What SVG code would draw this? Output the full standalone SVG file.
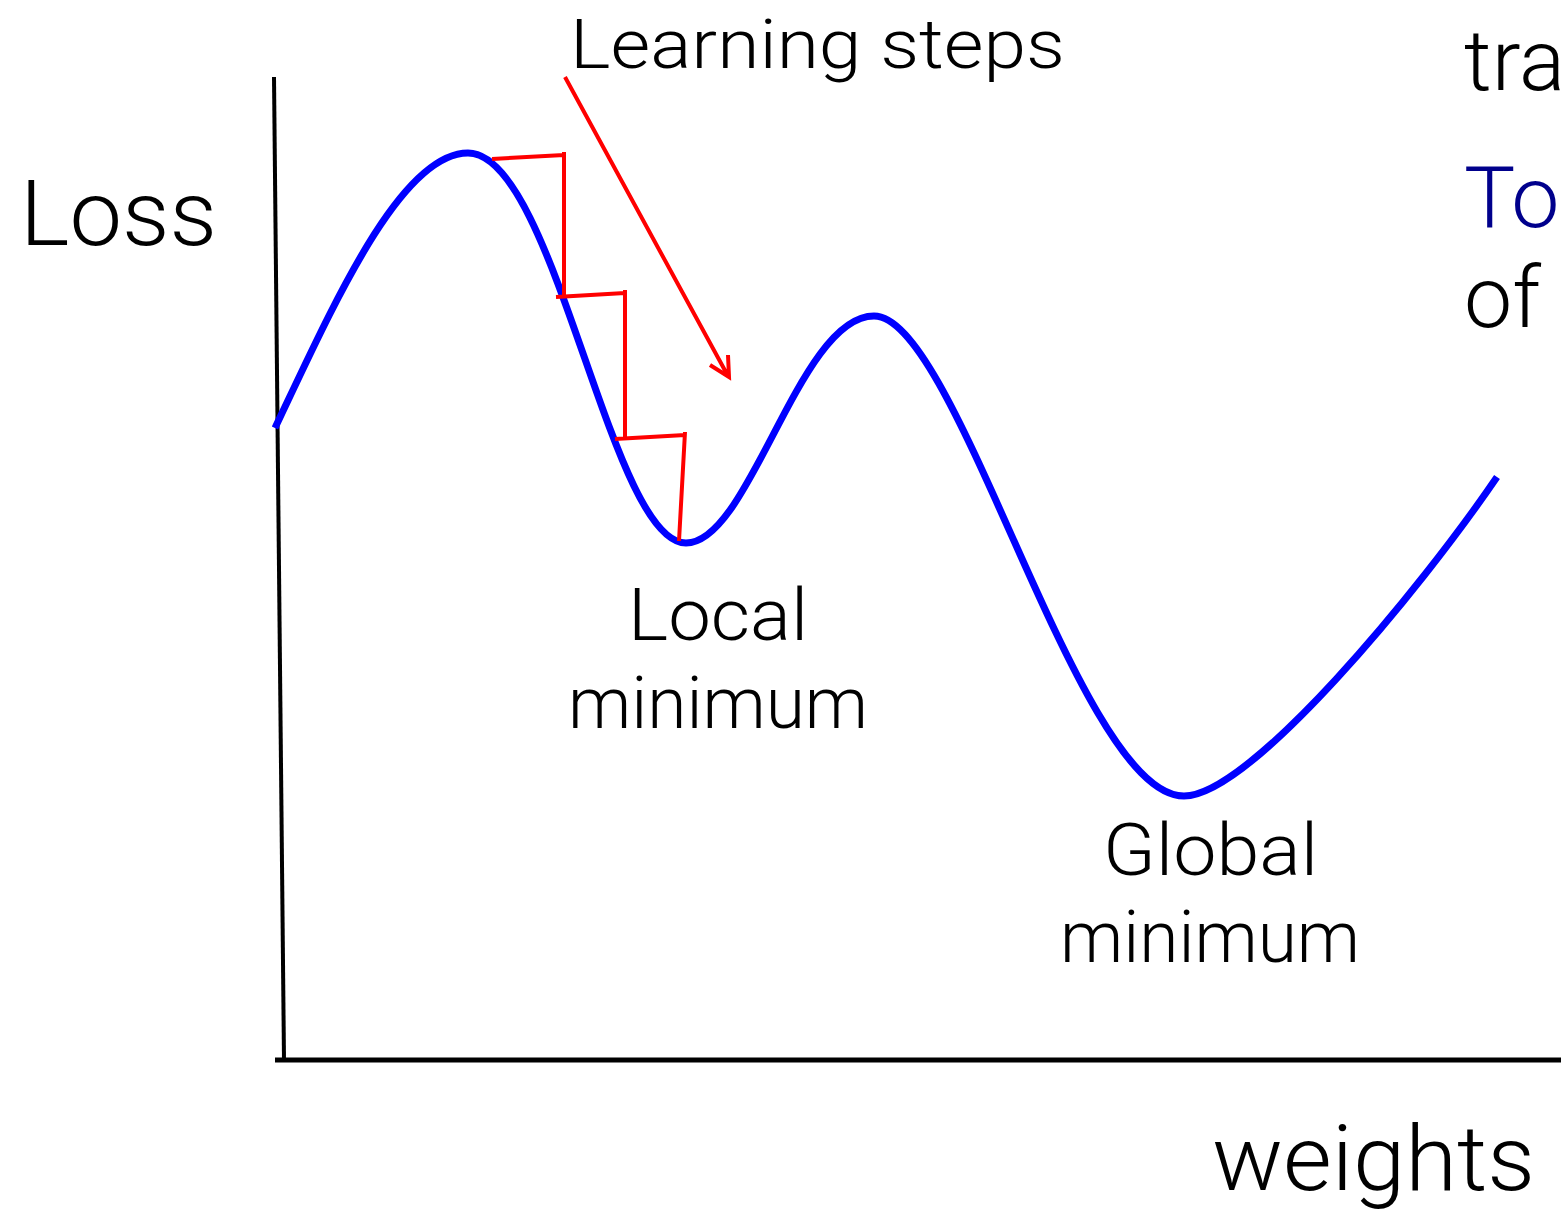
<svg xmlns="http://www.w3.org/2000/svg" width="1561" height="1215" viewBox="0 0 1561 1215">
<style>
.t{font-family:Roboto,"Liberation Sans",Arial,sans-serif;font-weight:300;fill:#000;}
.axis{stroke:#000;fill:none;stroke-linecap:butt;}
.red{stroke:#ff0000;fill:none;stroke-width:4;stroke-linecap:butt;stroke-linejoin:miter;}
</style>
<rect width="1561" height="1215" fill="#fff"/>
<g id="axes">
<line class="axis" x1="274" y1="77" x2="284" y2="1060" stroke-width="4"/>
<line class="axis" x1="275" y1="1060" x2="1561" y2="1060" stroke-width="5"/>
</g>
<g id="curve">
<path d="M275,428 C332,308 400,153 468,153 C555,153 610,543 686,543 C750,543 799,316 874,316 C958,316 1078,796 1184,796 C1250,796 1420,590 1497,477" fill="none" stroke="#0000ff" stroke-width="7"/>
</g>
<g id="connectors">
<path class="red" d="M492,159 L564,155 M564,152 L564,298 M556,297 L625,293 M625,290 L625,440 M615,439 L685,435 M685,432 L679,541"/>
<path class="red" d="M565,77 L728,376 M710,365 L729,377 L728,355" stroke-width="3.5"/>
</g>
<g id="labels">
<text class="t" x="20" y="245" font-size="90" textLength="197" lengthAdjust="spacingAndGlyphs">Loss</text>
<text class="t" x="570" y="68" font-size="68" textLength="495" lengthAdjust="spacingAndGlyphs">Learning steps</text>
<text class="t" x="628" y="640" font-size="72" textLength="180" lengthAdjust="spacingAndGlyphs">Local</text>
<text class="t" x="568" y="728" font-size="72" textLength="300" lengthAdjust="spacingAndGlyphs">minimum</text>
<text class="t" x="1103" y="875" font-size="72" textLength="215" lengthAdjust="spacingAndGlyphs">Global</text>
<text class="t" x="1060" y="962" font-size="72" textLength="300" lengthAdjust="spacingAndGlyphs">minimum</text>
<text class="t" x="1212" y="1190" font-size="90" textLength="323" lengthAdjust="spacingAndGlyphs">weights</text>
<text class="t" x="1464" y="90" font-size="86">tra</text>
<text class="t" x="1464" y="227" font-size="86" style="fill:#00008c">To</text>
<text class="t" x="1464" y="327" font-size="86">of</text>
</g>
</svg>
